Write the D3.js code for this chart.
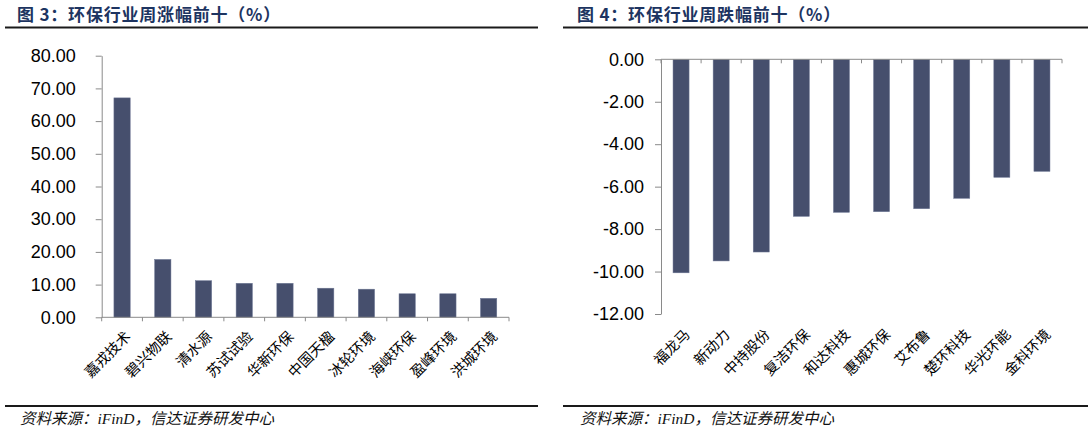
<!DOCTYPE html>
<html>
<head>
<meta charset="utf-8">
<script src="https://cdn.jsdelivr.net/npm/d3@7"></script>
<style>
  body { margin: 0; background: #fff; }
  .title { font-family: "Noto Sans CJK SC", sans-serif; font-weight: bold; font-size: 17px; fill: #1d3461; letter-spacing: 0.8px; }
  .source { font-family: "Liberation Serif", "Noto Sans CJK SC", serif; font-style: italic; font-size: 15.5px; fill: #111; }
  .ytick text { font-family: "Liberation Sans", Arial, sans-serif; font-size: 18px; fill: #000; }
  .cat { font-family: "Noto Sans CJK SC", sans-serif; font-size: 14.5px; fill: #000; }
</style>
</head>
<body>
<script>
// weekly top gainers / losers, environmental sector (%)
var gainNames = ['嘉戎技术', '碧兴物联', '清水源', '苏试试验', '华新环保', '中国天楹', '冰轮环境', '海峡环保', '盈峰环境', '洪城环境'];
var gainValues = [67.1, 17.7, 11.2, 10.4, 10.4, 8.9, 8.6, 7.2, 7.2, 5.8];
var gainTicks = [0, 10, 20, 30, 40, 50, 60, 70, 80];

var lossNames = ['福龙马', '新动力', '中持股份', '复洁环保', '和达科技', '惠城环保', '艾布鲁', '楚环科技', '华光环能', '金科环境'];
var lossValues = [-10.06, -9.5, -9.08, -7.4, -7.21, -7.18, -7.04, -6.55, -5.56, -5.28];
var lossTicks = [-12, -10, -8, -6, -4, -2, 0];

var barColor = '#464f6d',
    axisColor = '#8a8a8a';

var svg = d3.select('body').append('svg')
    .attr('width', 1088)
    .attr('height', 434);

// frame: titles, rules, sources
function frame(x0, x1, tx, title) {
    svg.append('text').classed('title', true)
        .attr('x', tx).attr('y', 21).text(title);
    svg.append('line')
        .attr('x1', x0).attr('x2', x1).attr('y1', 27.5).attr('y2', 27.5)
        .style('stroke', '#1a1a1a').style('stroke-width', 2);
    svg.append('line')
        .attr('x1', x0).attr('x2', x1).attr('y1', 406).attr('y2', 406)
        .style('stroke', '#1a1a1a').style('stroke-width', 2);
    svg.append('text').classed('source', true)
        .attr('x', tx + 3).attr('y', 424).text('资料来源：iFinD，信达证券研发中心');
}
frame(5, 538, 17, '图 3：环保行业周涨幅前十（%）');
frame(563, 1088, 577, '图 4：环保行业周跌幅前十（%）');

function barChart(opt) {
    var g = svg.append('g');
    var x = d3.scaleBand()
        .domain(opt.names)
        .range([opt.left, opt.right])
        .paddingInner(0.6)
        .paddingOuter(0.3);
    var y = d3.scaleLinear()
        .domain(opt.domain)
        .range([opt.bottom, opt.top]);

    // y axis
    var yAxis = g.append('g')
        .classed('ytick', true)
        .attr('transform', 'translate(' + opt.left + ',0)')
        .call(d3.axisLeft(y)
            .tickValues(opt.ticks)
            .tickSize(6)
            .tickSizeOuter(0)
            .tickPadding(opt.pad)
            .tickFormat(function(d) { return d.toFixed(2); }));
    yAxis.select('.domain').style('stroke', axisColor);
    yAxis.selectAll('.tick line').style('stroke', axisColor);

    // bars
    g.selectAll('.bar')
        .data(opt.values)
        .enter()
        .append('rect')
        .classed('bar', true)
        .attr('x', function(d, i) { return x(opt.names[i]); })
        .attr('width', x.bandwidth())
        .attr('y', function(d) { return y(Math.max(0, d)); })
        .attr('height', function(d) { return Math.abs(y(d) - y(0)); })
        .style('fill', barColor)
        .style('stroke', '#6f7895')
        .style('stroke-width', 0.5);

    // category axis at zero
    var y0 = y(0);
    g.append('line')
        .attr('x1', opt.left).attr('x2', opt.right)
        .attr('y1', y0).attr('y2', y0)
        .style('stroke', axisColor);
    var step = x.step();
    g.selectAll('.xtick')
        .data(d3.range(opt.names.length + 1))
        .enter()
        .append('line')
        .attr('x1', function(i) { return opt.left + i * step; })
        .attr('x2', function(i) { return opt.left + i * step; })
        .attr('y1', y0).attr('y2', y0 + 4)
        .style('stroke', axisColor);

    // rotated labels below the plot
    g.selectAll('.cat')
        .data(opt.names)
        .enter()
        .append('text')
        .classed('cat', true)
        .attr('text-anchor', 'end')
        .attr('dy', '0.35em')
        .attr('transform', function(d) {
            return 'translate(' + (x(d) + x.bandwidth() / 2 + 6) + ',' + opt.labelY + ') rotate(-45)';
        })
        .text(function(d) { return d; });
}

barChart({
    names: gainNames, values: gainValues, ticks: gainTicks,
    domain: [0, 80], left: 101.7, right: 509, top: 55.7, bottom: 317.3,
    pad: 20, labelY: 334
});

barChart({
    names: lossNames, values: lossValues, ticks: lossTicks,
    domain: [-12, 0], left: 661, right: 1062, top: 59.3, bottom: 314,
    pad: 11, labelY: 332
});
</script>
</body>
</html>
